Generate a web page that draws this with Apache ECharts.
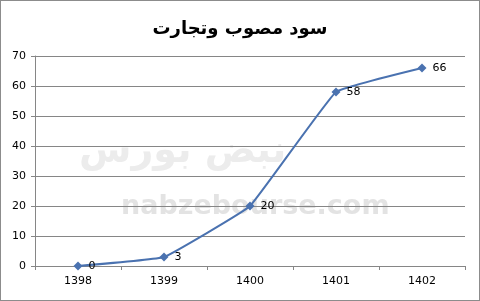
<!DOCTYPE html>
<html><head><meta charset="utf-8">
<script src="https://cdn.jsdelivr.net/npm/echarts@6/dist/echarts.min.js"></script>
<style>html,body{margin:0;padding:0;background:#fff}#c{width:480px;height:301px;box-sizing:border-box;border:1px solid #8c8c8c}</style>
</head><body><div id="c"></div>
<script>
const titleText = 'سود مصوب وتجارت';
const categories = ['1398', '1399', '1400', '1401', '1402'];
const values = [0, 3, 20, 58, 66];
const yMin = 0, yMax = 70, yStep = 10;

const chart = echarts.init(document.getElementById('c'), null, {renderer: 'canvas'});
chart.setOption({
  animation: false,
  backgroundColor: '#fff',
  title: {
    text: titleText, left: 'center', top: 14,
    textStyle: {fontFamily: 'DejaVu Sans', fontWeight: 'bold', fontSize: 18, color: '#000'}
  },
  graphic: [
    {type: 'text', left: 120, top: 192, z: -1, silent: true,
     style: {text: 'nabzebourse.com', font: 'bold 27px "DejaVu Sans"', fill: '#e3e3e3'}},
    {type: 'text', left: 78, top: 132, z: -1, silent: true,
     style: {text: 'نبض بورس', font: 'bold 38px "DejaVu Sans"', fill: '#ececec'}}
  ],
  grid: {left: 34, right: 14, top: 55, bottom: 34, containLabel: false},
  xAxis: {
    type: 'category', data: categories, boundaryGap: true,
    axisLine: {lineStyle: {color: '#868686', width: 1}},
    axisTick: {show: true, length: 4, lineStyle: {color: '#868686'}},
    axisLabel: {color: '#000', fontSize: 11, fontFamily: 'DejaVu Sans', margin: 10}
  },
  yAxis: {
    type: 'value', min: yMin, max: yMax, interval: yStep,
    axisLine: {show: true, lineStyle: {color: '#868686', width: 1}},
    axisTick: {show: true, length: 4, lineStyle: {color: '#868686'}},
    splitLine: {lineStyle: {color: '#868686', width: 1}},
    axisLabel: {color: '#000', fontSize: 11, fontFamily: 'DejaVu Sans', margin: 9}
  },
  series: [{
    type: 'line', data: values, smooth: 0.08,
    symbol: 'diamond', symbolSize: 9,
    lineStyle: {color: '#4a72b0', width: 2},
    itemStyle: {color: '#4a72b0'},
    label: {show: true, position: 'right', distance: 6, color: '#000', fontSize: 11, fontFamily: 'DejaVu Sans'}
  }]
});
</script></body></html>
